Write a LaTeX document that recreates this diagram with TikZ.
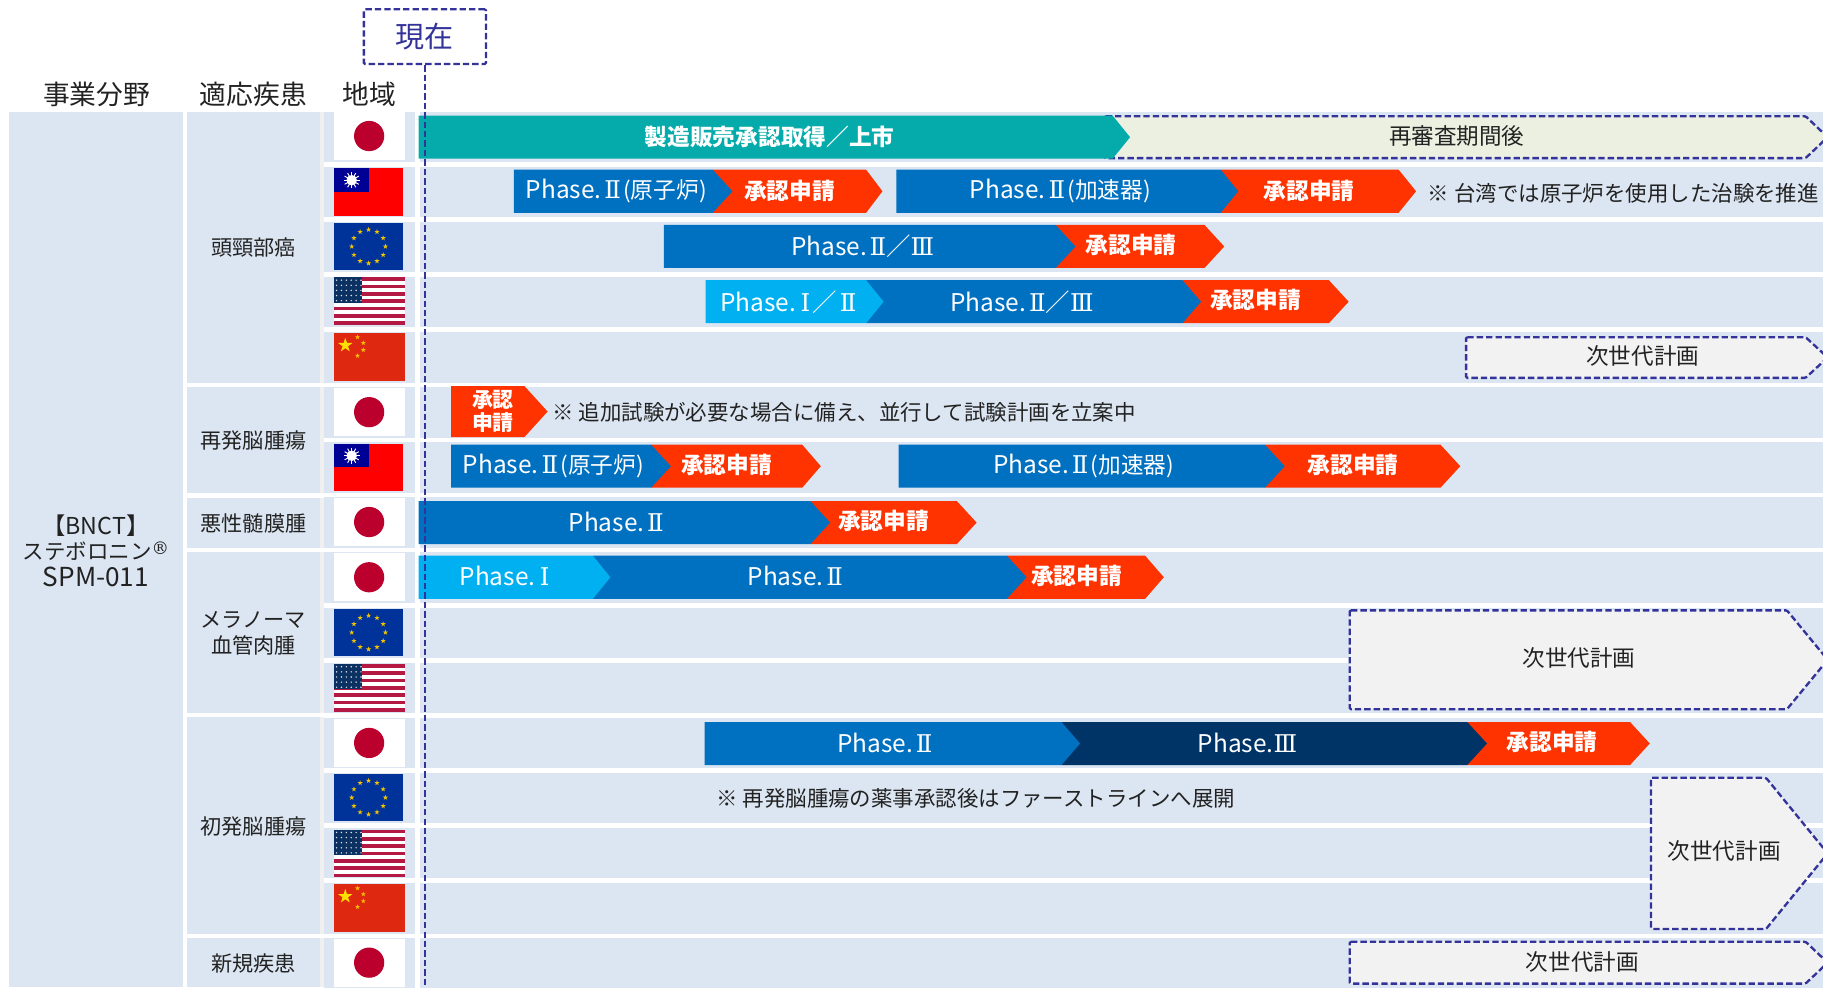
\documentclass[tikz,border=0pt]{standalone}
\usepackage{fontspec}
\setmainfont{Noto Sans CJK JP}
\newfontfamily\romfont{DejaVu Serif}
\usetikzlibrary{positioning,calc}
\definecolor{bandcol}{HTML}{DCE6F2}
\definecolor{planline}{HTML}{333399}
\definecolor{phaseone}{HTML}{00B0F0}
\definecolor{phasetwo}{HTML}{0070C0}
\definecolor{phasethree}{HTML}{003366}
\definecolor{appcol}{HTML}{FF3300}
\definecolor{marketcol}{HTML}{05ABAB}
\definecolor{reviewcol}{HTML}{EBF0E0}
\definecolor{plancol}{HTML}{F2F2F2}
\definecolor{inkcol}{HTML}{222222}
\definecolor{jpred}{HTML}{BC002D}
\definecolor{twblue}{HTML}{000095}
\definecolor{twred}{HTML}{FE0000}
\definecolor{eublue}{HTML}{003399}
\definecolor{eustar}{HTML}{F2C200}
\definecolor{usblue}{HTML}{0A3161}
\definecolor{usred}{HTML}{B31942}
\definecolor{cnred}{HTML}{DE2910}
\definecolor{cnstar}{HTML}{FFDE00}
\newcommand{\sz}[1]{\fontsize{#1}{#1}\selectfont}
\newcommand{\rI}{\kern4pt{\romfont Ⅰ}\kern2pt}
\newcommand{\rII}{\kern2.5pt{\romfont Ⅱ}}
\newcommand{\rIII}{{\romfont Ⅲ}}
\tikzset{lbl/.style={inner sep=0pt,text=inkcol,font=\sz{18.2}},
         head/.style={lbl,font=\sz{23}},
         note/.style={lbl,anchor=west,font=\sz{18.45}},
         planlbl/.style={lbl,font=\sz{19.4}},
         phase/.style={inner sep=0pt,text=white,font=\sz{21},yshift=-0.7pt},
         app/.style={inner sep=0pt,text=white,font=\sz{19.5}\bfseries},
         plan/.style={draw=planline,line width=2pt,dash pattern=on 5.5pt off 2.6pt,rounded corners=1pt}
}
\tikzstyle{nowline} = [draw=planline,line width=1.8pt,dash pattern=on 5.5pt off 2.6pt]
% flat bar with a point on its right
\newcommand{\chevbar}[5]{\fill[#1] (#2,#5-18.5)--(#3,#5-18.5)--(#4,#5)--(#3,#5+18.5)--(#2,#5+18.5)--cycle;}
% dashed bar: fill, x0, x1, tip, top, bottom
\newcommand{\planbar}[6]{\filldraw[plan,fill=#1] (#2,#5)--(#3,#5)--(#4,{(#5+#6)/2})--(#3,#6)--(#2,#6)--cycle;}
\newcommand{\flagstar}[3]{\fill[shift={(#1,#2)}] (270:#3)--(54:#3)--(198:#3)--(342:#3)--(126:#3)--cycle;}
\tikzset{flagjp/.pic={
    \fill[white] (-30.5,-20.5) rectangle (30.5,20.5);
    \fill[jpred] (0,0) circle (13);
  },
  flagtw/.pic={
    \fill[twred] (-30.5,-20.5) rectangle (29.5,20.5);
    \fill[twblue] (-30.5,-20.5) rectangle (-0.5,0);
    \fill[white] (-15,-10) circle (4.5);
    \foreach \a in {0,30,...,330}
      \draw[white,line width=0.8pt] (-15,-10)--++(\a:7);
  },
  flageu/.pic={
    \fill[eublue] (-30.5,-20.5) rectangle (29.5,20.5);
    \begin{scope}[eustar]
    \foreach \a in {0,30,...,330}{
      \pgfmathsetmacro{\sx}{-0.5+14.5*cos(\a)}
      \pgfmathsetmacro{\sy}{14.5*sin(\a)}
      \flagstar{\sx}{\sy}{2.4}
    }
    \end{scope}
  },
  flagus/.pic={
    \fill[white] (-30.5,-20.5) rectangle (30.5,20.5);
    \foreach \s in {0,2,...,12}
      \fill[usred] (-30.5,{-20.5+\s*41/13}) rectangle (30.5,{-20.5+(\s+1)*41/13});
    \fill[usblue] (-30.5,-20.5) rectangle (-6,1.5);
    \foreach \i in {0,...,5}
      \foreach \j in {0,...,4}
        \fill[white!85!usblue] ({-28+\i*4.2},{-18+\j*4.4}) circle (0.7);
  },
  flagcn/.pic={
    \fill[cnred] (-30.5,-20.5) rectangle (30.5,20.5);
    \begin{scope}[cnstar]
    \flagstar{-20.5}{-10}{6.5}
    \end{scope}
    \begin{scope}[orange!30!cnstar]
    \flagstar{-10}{-17}{2.2}
    \flagstar{-5}{-12}{2.2}
    \flagstar{-5}{-6}{2.2}
    \flagstar{-10}{-1}{2.2}
    \end{scope}
  }
}

\begin{document}
\begin{tikzpicture}[x=1pt,y=-1pt]
\clip (0,0) rectangle (1568,849);

% rows
\fill[bandcol] (8,96) rectangle (157,849);
\foreach \t/\b in {96/329,333/424,428/471,475/613,617/803,807/849}{
  \fill[bandcol] (161,\t) rectangle (275,\b);
  \fill[black!6] (275,\t) rectangle (279,\b);
}
\foreach \r in {0,...,15}{
  \fill[bandcol] (279,{96+\r*47.4}) rectangle (357,{139.4+\r*47.4});
  \fill[bandcol] (361,{96+\r*47.4}) rectangle (1568,{139.4+\r*47.4});
}

% flags
\pic at (317.5,117) {flagjp};
\pic at (317.5,165) {flagtw};
\pic at (317.5,212) {flageu};
\pic at (317.5,259) {flagus};
\pic at (317.5,307) {flagcn};
\pic at (317.5,354.5) {flagjp};
\pic at (317.5,402) {flagtw};
\pic at (317.5,449) {flagjp};
\pic at (317.5,496.5) {flagjp};
\pic at (317.5,544) {flageu};
\pic at (317.5,591.5) {flagus};
\pic at (317.5,639) {flagjp};
\pic at (317.5,686) {flageu};
\pic at (317.5,734) {flagus};
\pic at (317.5,781) {flagcn};
\pic at (317.5,828) {flagjp};

% headers
\node[head] (field) at (83,81) {事業分野};
\node[head] (disease) at (218,81) {適応疾患};
\node[head] (region) at (318,81) {地域};
\node[lbl,font=\sz{20},align=center] (product) at (82.5,473.5) {【BNCT】\\[2pt]{\sz{18.5}ステボロニン\raisebox{4pt}{\romfont\sz{15}®}}\\[3pt]{\sz{22.5}SPM-011}};
\node[lbl] (headneck) at (218,213) {頭頸部癌};
\node[lbl] (recurrent) at (218,379) {再発脳腫瘍};
\node[lbl] (meningioma) at (218,450) {悪性髄膜腫};
\node[lbl,align=center] (melanoma) at (218,545) {メラノーマ\\[4pt]血管肉腫};
\node[lbl] (primary) at (218,711) {初発脳腫瘍};
\node[lbl] (newdisease) at (218,829) {新規疾患};

% row 1
\planbar{reviewcol}{950}{1553}{1572}{100}{136}
\chevbar{marketcol}{360}{957}{972}{118}
\node[phase,font=\sz{19.5}\bfseries] (market) at (662,117) {製造販売承認取得／上市};
\node[planlbl] (review) at (1253,117) {再審査期間後};

% row 2
\chevbar{appcol}{613}{745}{759}{164.5}
\chevbar{phasetwo}{442}{613}{630}{164.5}
\chevbar{appcol}{1050}{1203}{1218}{164.5}
\chevbar{phasetwo}{771}{1050}{1065}{164.5}
\node[phase] (twreactor) at (530,164) {Phase.\rII\kern2pt{\sz{19.5}(原子炉)}};
\node[app] (twappa) at (679,164) {承認申請};
\node[phase] (twaccel) at (912,164) {Phase.\rII\kern2pt{\sz{19.5}(加速器)}};
\node[app] (twappb) at (1126,164) {承認申請};
\node[note] (twnote) at (1228,166) {※ 台湾では原子炉を使用した治験を推進};

% row 3
\chevbar{appcol}{908}{1036}{1053}{212}
\chevbar{phasetwo}{571}{908}{925}{212}
\node[phase] (euphase) at (742,211) {Phase.\rII／\rIII};
\node[app] (euapp) at (973,211) {承認申請};

% row 4
\chevbar{appcol}{1017}{1143}{1160}{259.5}
\chevbar{phasetwo}{745}{1017}{1033}{259.5}
\chevbar{phaseone}{607}{745}{760}{259.5}
\node[phase] (usphasea) at (678,259) {Phase.\rI／\rII};
\node[phase] (usphaseb) at (879,259) {Phase.\rII／\rIII};
\node[app] (usapp) at (1080,258) {承認申請};

% row 5
\planbar{plancol}{1261}{1553}{1572}{290}{325}
\node[planlbl] (cnplan) at (1413,306) {次世代計画};

% row 6
\fill[appcol] (388,332)--(451,332)--(471,354)--(451,376)--(388,376)--cycle;
\node[app,font=\sz{18}\bfseries,align=center] (jpapp) at (424,354) {承認\\[2pt]申請};
\node[note] (jpnote) at (475,355) {※ 追加試験が必要な場合に備え、並行して試験計画を立案中};

% row 7
\chevbar{appcol}{560}{690}{706}{401}
\chevbar{phasetwo}{388}{560}{577}{401}
\chevbar{appcol}{1088}{1239}{1256}{401}
\chevbar{phasetwo}{773}{1088}{1105}{401}
\node[phase] (retwreactor) at (476,400) {Phase.\rII\kern2pt{\sz{19.5}(原子炉)}};
\node[app] (retwappa) at (625,400) {承認申請};
\node[phase] (retwaccel) at (932,400) {Phase.\rII\kern2pt{\sz{19.5}(加速器)}};
\node[app] (retwappb) at (1164,400) {承認申請};

% row 8
\chevbar{appcol}{697}{823}{840}{449.5}
\chevbar{phasetwo}{360}{697}{714}{449.5}
\node[phase] (menphase) at (530,448) {Phase.\rII};
\node[app] (menapp) at (760,448) {承認申請};

% row 9
\chevbar{appcol}{866}{985}{1001}{496.5}
\chevbar{phasetwo}{510}{866}{883}{496.5}
\chevbar{phaseone}{360}{510}{525}{496.5}
\node[phase] (melphasea) at (435,495) {Phase.\rI};
\node[phase] (melphaseb) at (684,495) {Phase.\rII};
\node[app] (melapp) at (926,495) {承認申請};

% rows 10, 11
\planbar{plancol}{1161}{1537}{1572}{525}{610}
\node[planlbl] (melplan) at (1358,566) {次世代計画};

% row 12
\chevbar{appcol}{1262}{1402}{1419}{639.5}
\chevbar{phasethree}{913}{1262}{1279}{639.5}
\chevbar{phasetwo}{606}{913}{929}{639.5}
\node[phase] (priphasea) at (761,638) {Phase.\rII};
\node[phase] (priphaseb) at (1073,638) {Phase.\rIII};
\node[app] (priapp) at (1335,638) {承認申請};

% rows 13 to 15
\node[note] (prinote) at (616,687) {※ 再発脳腫瘍の薬事承認後はファーストラインへ展開};
\planbar{plancol}{1420}{1519}{1572}{669}{799}
\node[planlbl] (priplan) at (1483,732) {次世代計画};

% row 16
\planbar{plancol}{1161}{1553}{1572}{810}{846}
\node[planlbl] (newplan) at (1361,827) {次世代計画};

% today
\node[plan,fill=white,minimum width=105pt,minimum height=47pt,inner sep=0pt,text=planline,font=\sz{25}] (now) at (365.5,31.5) {\raisebox{-1.5pt}{現在}};
\coordinate (nowend) at (365.5,849);
\draw[nowline] (now.south)--(nowend);

\end{tikzpicture}
\end{document}
